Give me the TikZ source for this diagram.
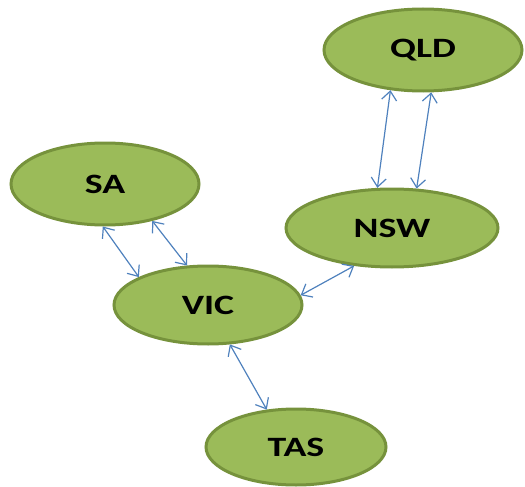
\documentclass[tikz,border=0pt]{standalone}
\usepackage{fontspec}
\setmainfont{Carlito}
\usetikzlibrary{shapes.geometric,arrows.meta}
\definecolor{nodefill}{RGB}{155,187,89}
\definecolor{nodeline}{RGB}{118,146,60}
\definecolor{arrowblue}{RGB}{79,129,189}
\newcommand{\widelbl}[1]{\scalebox{1.35}[1]{#1}}
\tikzset{
  state/.style={ellipse, draw=nodeline, fill=nodefill, line width=3pt, inner sep=0pt,
    font=\fontsize{28}{32}\selectfont\bfseries, text=black},
  link/.style={draw=arrowblue, line width=1.2pt, {Straight Barb[length=9pt,width=15pt]}-{Straight Barb[length=9pt,width=15pt]}}
}
\begin{document}
\begin{tikzpicture}[x=1pt,y=-1pt]
\useasboundingbox (0,0) rectangle (525,487);
\node[state, minimum width=198pt, minimum height=82pt] (qld) at (423,50) {\widelbl{QLD}};
\node[state, minimum width=188pt, minimum height=82pt] (sa) at (105,184) {\widelbl{SA}};
\node[state, minimum width=212pt, minimum height=78pt] (nsw) at (392,228) {\widelbl{NSW}};
\node[state, minimum width=188pt, minimum height=78pt] (vic) at (208,305) {\widelbl{VIC}};
\node[state, minimum width=180pt, minimum height=76pt] (tas) at (296,447) {\widelbl{TAS}};
\draw[link] (qld.231) -- (nsw.110);
\draw[link] (qld.281) -- (nsw.58);
\draw[link] (sa.267) -- (vic.158);
\draw[link] (sa.322) -- (vic.118);
\draw[link] (vic.6) -- (nsw.225);
\draw[link] (vic.299) -- (tas.128);
\end{tikzpicture}
\end{document}
